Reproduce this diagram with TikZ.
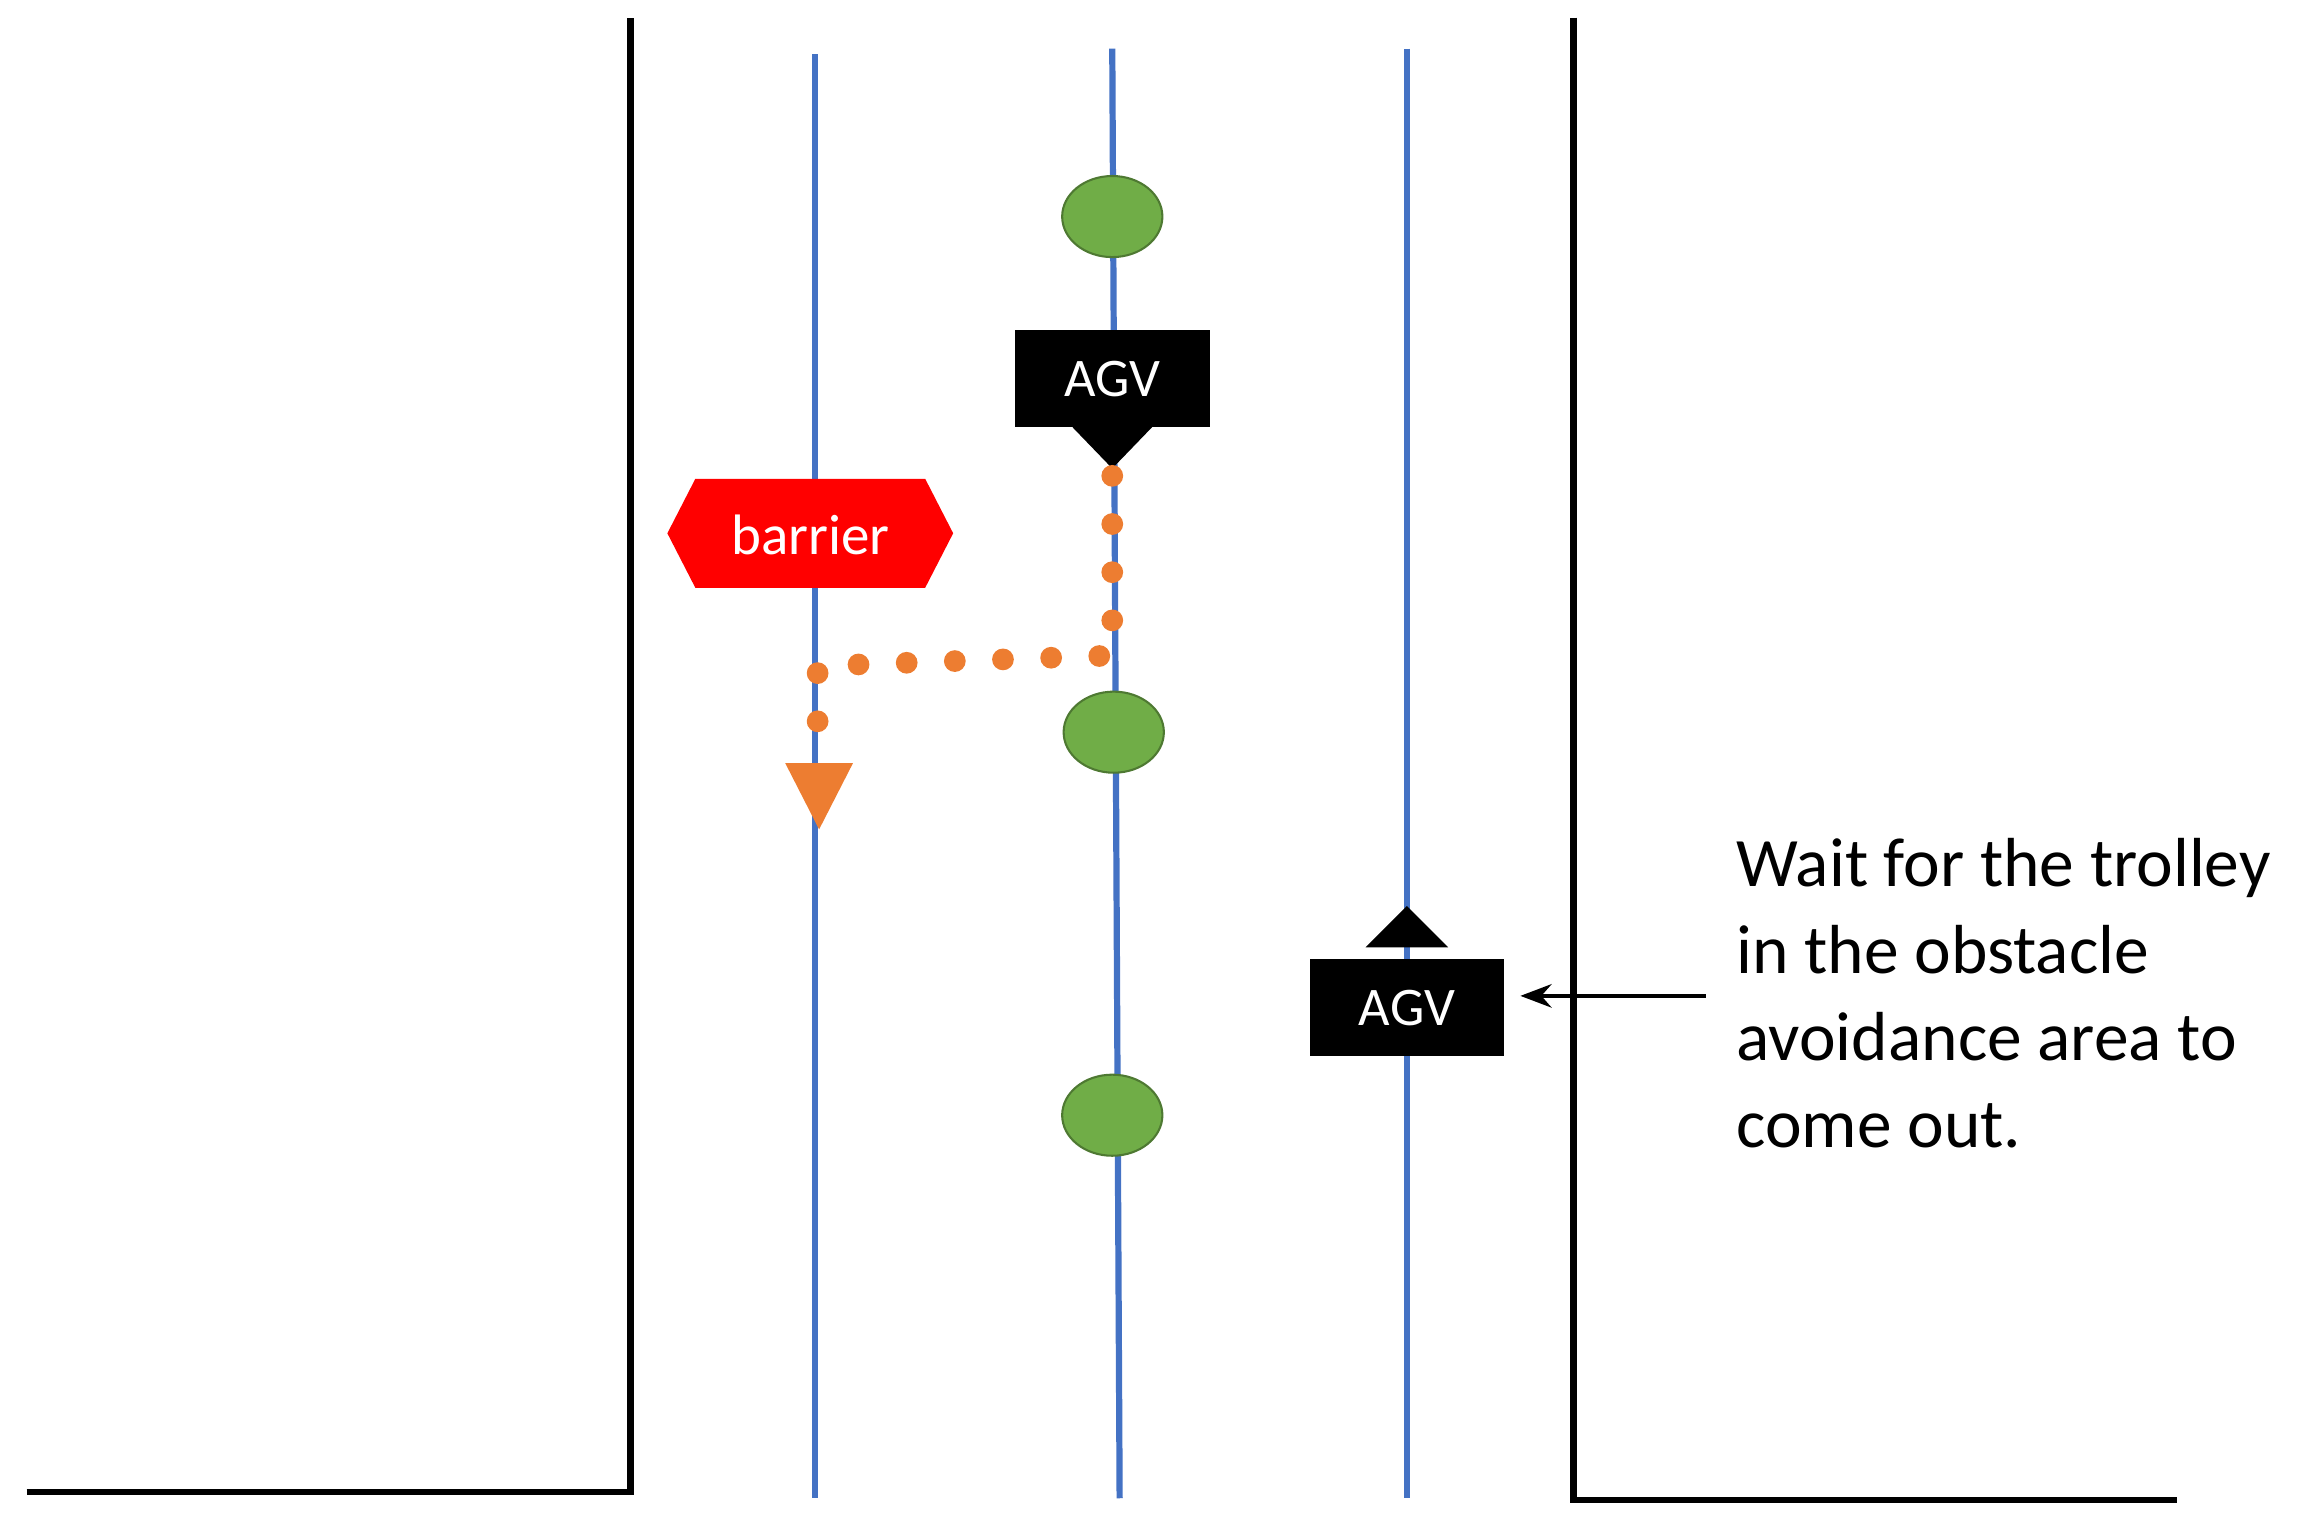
\documentclass[tikz,border=0pt]{standalone}
\usepackage{fontspec}
\setmainfont{Carlito}
\usetikzlibrary{arrows.meta,shapes.geometric}
\definecolor{lane}{HTML}{4472C4}
\definecolor{stopgreen}{HTML}{70AD47}
\definecolor{pathorange}{HTML}{ED7D31}
\tikzset{
  wall/.style={line width=1.2pt},
  lane/.style={draw=lane,line width=1.2pt},
  station/.style={ellipse,fill=stopgreen,draw=stopgreen!70!black,minimum width=0.68cm,minimum height=0.55cm,inner sep=0pt},
  agv/.style={fill=black,text=white,minimum width=1.32cm,minimum height=0.66cm,font=\fontsize{10.5}{10.5}\selectfont},
  route/.style={pathorange,line width=4.2pt,line cap=round,dash pattern=on 0pt off 9.3pt},
}
\begin{document}
\begin{tikzpicture}[x=0.01cm,y=-0.01cm]
\useasboundingbox (0,0) rectangle (1568,1040);
%walls
\draw[wall] (18,1013) -- (428,1013) -- (428,12);
\draw[wall] (1068,12) -- (1068,1018) -- (1478,1018);
%lanes
\draw[lane] (553,37) -- (553,1017);
\draw[lane] (755,33) -- (760,1017);
\draw[lane] (955,33) -- (955,1017);
%stations
\node[station] (s1) at (755,147) {};
\node[station] (s2) at (756,497) {};
\node[station] (s3) at (755,757) {};
%barrier
\fill[red] (453,362) -- (472,325) -- (628,325) -- (647,362) -- (628,399) -- (472,399) -- cycle;
\node[text=white,font=\fontsize{11}{11}\selectfont] (bar) at (550,363) {barrier};
%agv moving down
\node[agv] (agv1) at (755,257) {AGV};
\fill (728,290) -- (782,290) -- (755,318) -- cycle;
%avoidance route
\coordinate (r1) at (755,323);
\coordinate (r2) at (755,445);
\coordinate (r3) at (555,452);
\coordinate (r4) at (555,515);
\draw[route] (r1) -- (r2) -- (r3) -- (r4);
\fill[pathorange] (533,518) -- (579,518) -- (556,563) -- cycle;
%agv waiting
\node[agv] (agv2) at (955,684) {AGV};
\fill (927,643) -- (983,643) -- (955,615) -- cycle;
%note
\node[align=left,anchor=north west,font=\fontsize{13.4}{16.8}\selectfont,inner sep=0pt] (note) at (1178,568)
  {Wait for the trolley\\in the obstacle\\avoidance area to\\come out.};
\coordinate (n1) at (1158,676);
\coordinate (n2) at (1032,676);
\draw[-{Stealth[length=6pt]},line width=0.9pt] (n1) -- (n2);
\end{tikzpicture}
\end{document}
